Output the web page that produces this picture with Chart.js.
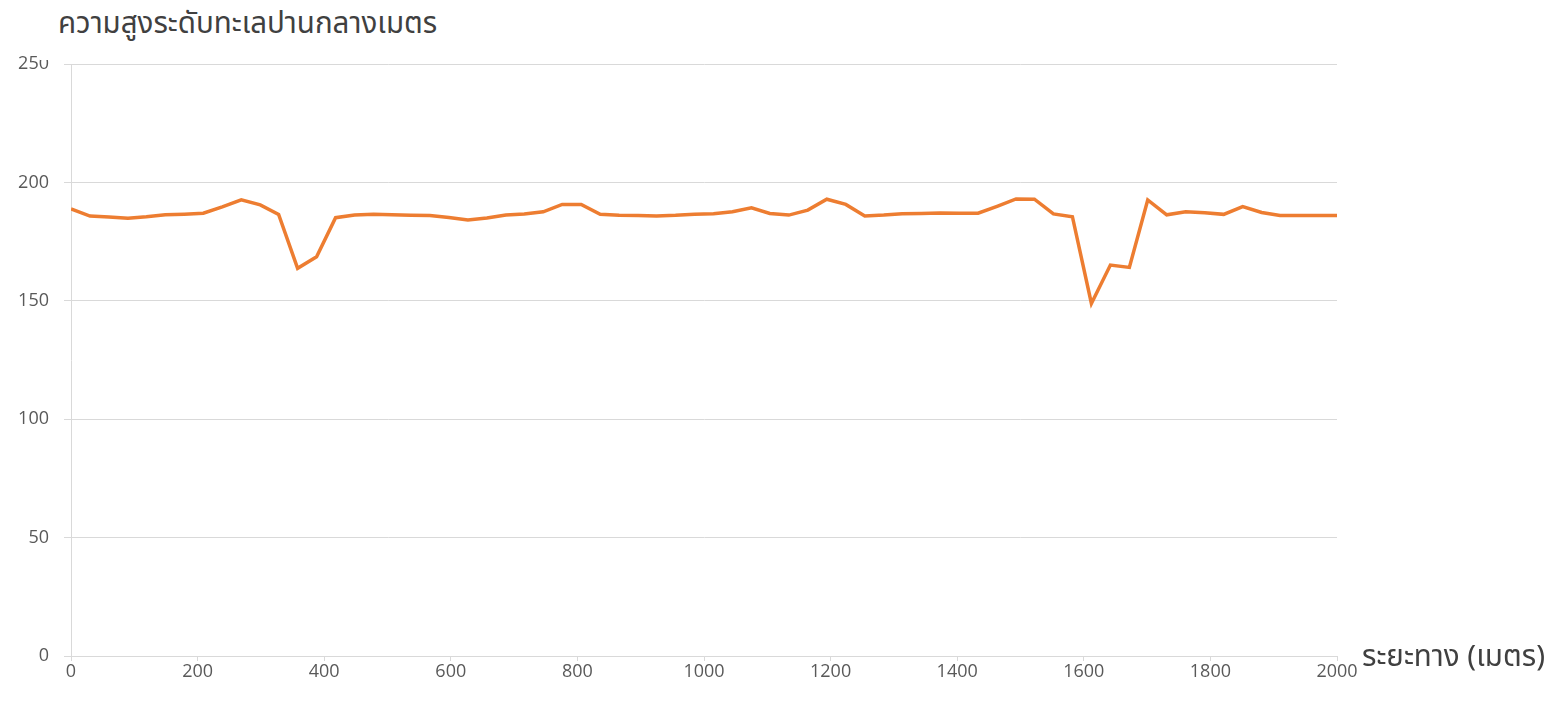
<!DOCTYPE html>
<html>
<head>
<meta charset="utf-8">
<script src="https://cdn.jsdelivr.net/npm/chart.js@4.4.1/dist/chart.umd.min.js"></script>
<style>
  html, body { margin:0; padding:0; background:#ffffff; }
  #wrap { position:relative; width:1560px; height:701px; overflow:hidden; }
  #c { position:absolute; left:0; top:0; }
  .ttl { position:absolute; color:#404040; font-weight:400; font-family:"Noto Sans Thai","Noto Sans",sans-serif; white-space:nowrap; }
  #ytitle { left:40px; top:0px; width:430px; height:60px; background:#ffffff; }
  #ytitle span { position:absolute; left:18px; top:7px; font-size:29.5px; line-height:34px; }
  #xtitle { left:1362px; top:640px; font-size:29.5px; line-height:34px; }
</style>
</head>
<body>
<div id="wrap">
  <canvas id="c" width="1560" height="701"></canvas>
  <div id="ytitle" class="ttl"><span id="yt">ความสูงระดับทะเลปานกลางเมตร</span></div>
  <div id="xtitle" class="ttl">ระยะทาง (เมตร)</div>
</div>
<script>
const distances = [0,30,60,90,119,149,179,209,239,269,
  299,328,358,388,418,448,478,507,537,567,
  597,627,657,687,716,746,776,806,836,866,
  896,925,955,985,1015,1045,1075,1104,1134,1164,
  1194,1224,1254,1284,1313,1343,1373,1403,1433,1463,
  1493,1522,1552,1582,1612,1642,1672,1701,1731,1761,
  1791,1821,1851,1881,1910,1940,1970,2000];
const elevations = [188.8,185.8,185.4,184.9,185.5,186.3,186.6,187.0,189.7,192.6,
  190.5,186.5,163.7,168.6,185.1,186.2,186.5,186.3,186.1,186.0,
  185.2,184.1,185.0,186.2,186.7,187.6,190.7,190.7,186.5,186.1,
  186.0,185.8,186.1,186.6,186.8,187.6,189.3,186.9,186.2,188.3,
  192.9,190.7,185.8,186.2,186.8,186.9,187.1,187.0,187.0,189.9,
  193.0,192.9,186.7,185.5,148.9,165.1,164.1,192.6,186.3,187.6,
  187.2,186.5,189.8,187.3,186.0,186.0,186.0,186.0];
const xTicks = [0,200,400,600,800,1000,1200,1400,1600,1800,2000];
const yTicks = [0,50,100,150,200,250];

const points = distances.map((d,i) => ({x:d, y:elevations[i]}));
const tickFont = {family:"'Open Sans','Noto Sans',sans-serif", size:18};
const gridCol = '#d9d9d9';

new Chart(document.getElementById('c'), {
  type:'line',
  data:{ datasets:[{ data:points, borderColor:'#ED7D31', borderWidth:3.5, pointRadius:0, tension:0, fill:false }] },
  options:{
    responsive:false, animation:false, devicePixelRatio:1,
    layout:{ padding:{ left:0, right:223, top:64, bottom:0 } },
    plugins:{ legend:{display:false}, tooltip:{enabled:false}, title:{display:false} },
    scales:{
      x:{
        type:'linear', min:0, max:2000,
        afterBuildTicks:(s)=>{ s.ticks = xTicks.map(v=>({value:v})); },
        afterFit:(s)=>{ s.height = 45; },
        grid:{ drawOnChartArea:false, drawTicks:true, tickLength:5, color:gridCol },
        border:{ display:true, color:gridCol, width:1 },
        ticks:{ font:tickFont, color:'#595959', padding:0, maxRotation:0, autoSkip:false, callback:(v)=>String(v) }
      },
      y:{
        type:'linear', min:0, max:250,
        afterBuildTicks:(s)=>{ s.ticks = yTicks.map(v=>({value:v})); },
        afterFit:(s)=>{ s.width = 71; },
        grid:{ drawOnChartArea:true, drawTicks:true, tickLength:7, color:gridCol, lineWidth:1 },
        border:{ display:true, color:gridCol, width:1 },
        ticks:{ font:tickFont, color:'#595959', padding:15, autoSkip:false, callback:(v)=>String(v) }
      }
    }
  }
});
</script>
</body>
</html>
